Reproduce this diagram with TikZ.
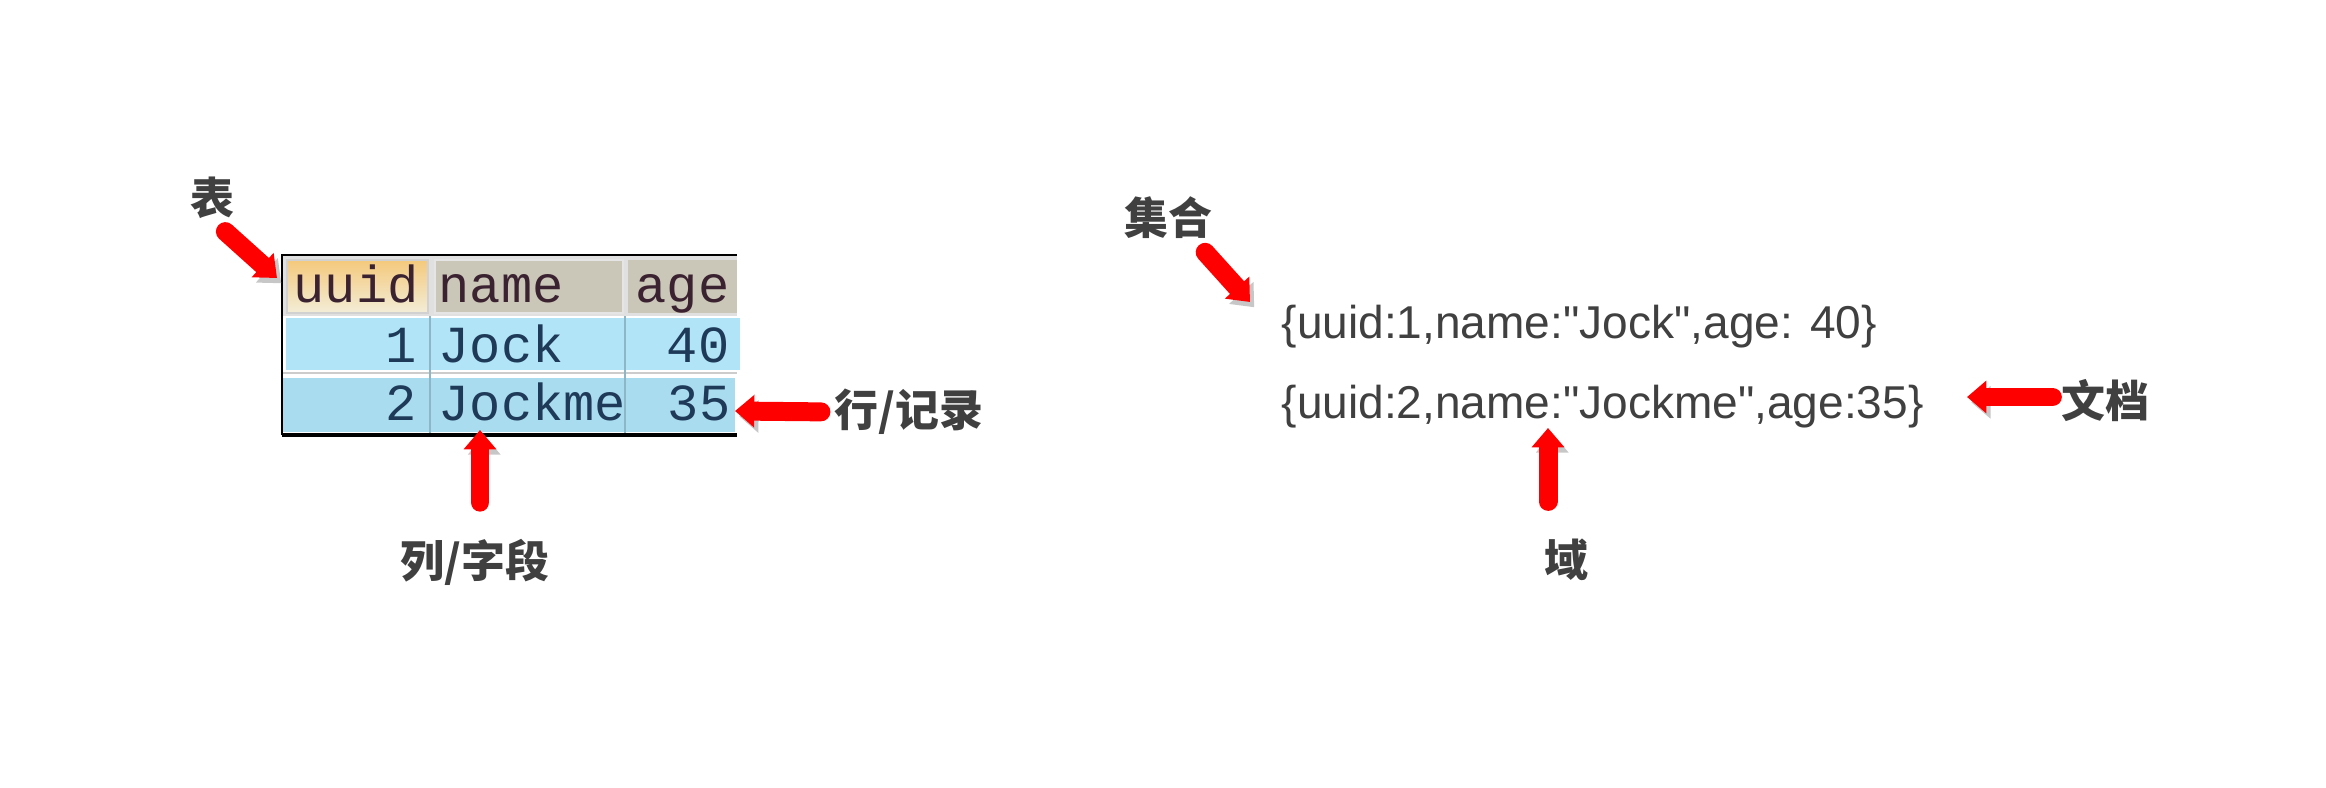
\documentclass[tikz,border=0pt]{standalone}
\usepackage{fontspec}
\usepackage{tikz}
\usetikzlibrary{arrows.meta}
\newfontfamily\cjk{Noto Sans CJK SC}
\newfontfamily\tabfont{Liberation Mono}
\newfontfamily\docfont{Liberation Sans}
\definecolor{labelgray}{HTML}{404040}
\definecolor{hdrorange}{HTML}{F4C97C}
\definecolor{hdrcream}{HTML}{F3EDD8}
\definecolor{hdrtan}{HTML}{CBC7B8}
\definecolor{rowone}{HTML}{B0E4F6}
\definecolor{rowtwo}{HTML}{A9DCEE}
\definecolor{gridblue}{HTML}{8DB7C7}
\definecolor{hdrtext}{HTML}{3B2230}
\definecolor{celltext}{HTML}{1E3A58}
\tikzset{
  tag/.style={inner sep=0pt, text=labelgray, font=\cjk\bfseries\fontsize{12.5}{14}\selectfont},
  redarrow/.style={line width=5.4pt, red, line cap=round, -{Triangle[width=9pt,length=5.5pt]},
    preaction={draw=black!22, transform canvas={xshift=1.2pt,yshift=-1.5pt}}},
  cell/.style={inner sep=0pt, text=celltext, font=\tabfont\fontsize{14.8}{16}\selectfont},
  hcell/.style={cell, text=hdrtext},
  doc/.style={inner sep=0pt, anchor=base west, text=labelgray, font=\docfont\fontsize{13.1}{15}\selectfont}
}
\begin{document}
\begin{tikzpicture}
            \useasboundingbox (0,0) rectangle (23.26,-7.88);
            % table
            \fill[black!12] (2.82,-2.55) rectangle (7.37,-3.16);
            \shade[top color=hdrorange, bottom color=hdrcream, draw=black!18] (2.87,-2.60) rectangle (4.28,-3.13);
            \fill[hdrtan, draw=black!10] (4.35,-2.60) rectangle (6.23,-3.13);
            \fill[hdrtan] (6.28,-2.60) rectangle (7.37,-3.13);
            \fill[rowone] (2.86,-3.18) rectangle (7.40,-3.70);
            \fill[rowtwo] (2.82,-3.78) rectangle (7.35,-4.32);
            \draw[black!20, line width=0.4pt] (2.82,-3.73) -- (7.37,-3.73);
            \draw[gridblue, line width=0.4pt] (4.30,-3.16) -- (4.30,-4.35);
            \draw[gridblue, line width=0.4pt] (6.25,-3.16) -- (6.25,-4.35);
            \draw[black, line width=0.85pt] (2.82,-4.35) -- (2.82,-2.55) -- (7.37,-2.55);
            \draw[black, line width=1.1pt] (2.82,-4.35) -- (7.37,-4.35);
            \node[hcell, anchor=base west] (huuid) at (2.93,-3.02) {uuid};
            \node[hcell, anchor=base west] (hname) at (4.38,-3.02) {name};
            \node[hcell, anchor=base west] (hage) at (6.35,-3.02) {age};
            \node[cell, anchor=base east] (id1) at (4.17,-3.62) {1};
            \node[cell, anchor=base west] (name1) at (4.38,-3.62) {Jock};
            \node[cell, anchor=base east] (age1) at (7.30,-3.62) {40};
            \node[cell, anchor=base east] (id2) at (4.17,-4.20) {2};
            \node[cell, anchor=base west] (name2) at (4.38,-4.20) {Jockme};
            \node[cell, anchor=base east] (age2) at (7.31,-4.20) {35};
            % documents
            \node[doc] (doc1) at (12.81,-3.38) {\{uuid:1,name:"Jock",age: 40\}};
            \node[doc] (doc2) at (12.81,-4.18) {\{uuid:2,name:"Jockme",age:35\}};
            % labels
            \node[tag] (biao) at (2.12,-1.98) {表};
            \node[tag] (lie) at (4.75,-5.62) {列/字段};
            \node[tag] (hang) at (9.09,-4.12) {行/记录};
            \node[tag] (jihe) at (11.68,-2.18) {集合};
            \node[tag] (yu) at (15.66,-5.60) {域};
            \node[tag] (wendang) at (21.05,-4.01) {文档};
            \coordinate (biaotip) at (2.77,-2.78);
            \coordinate (lietip) at (4.80,-4.30);
            \coordinate (hangtip) at (7.35,-4.11);
            \coordinate (jihetip) at (12.50,-3.02);
            \coordinate (yutip) at (15.48,-4.28);
            \coordinate (wendangtip) at (19.67,-3.97);
            \draw[redarrow, shorten <=0.18cm] (biao.south) -- (biaotip);
            \draw[redarrow, shorten <=0.36cm] (lie.north -| lietip) -- (lietip);
            \draw[redarrow, shorten <=0.13cm] (hang.west) -- (hangtip);
            \draw[redarrow, shorten <=0.17cm] (jihe.-40) -- (jihetip);
            \draw[redarrow, shorten <=0.37cm] (yu.north -| yutip) -- (yutip);
            \draw[redarrow, shorten <=0.08cm] (wendang.west |- wendangtip) -- (wendangtip);
\end{tikzpicture}
\end{document}
